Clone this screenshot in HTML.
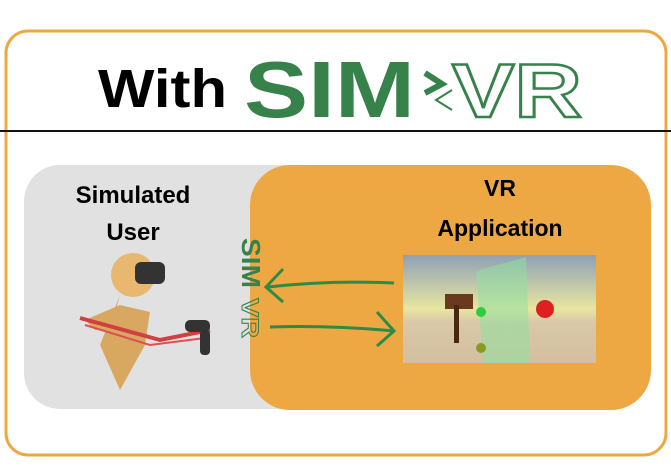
<!DOCTYPE html>
<html><head><style>
html,body{margin:0;padding:0;background:#fff;}
svg{display:block;}
</style></head><body>
<svg width="671" height="466" viewBox="0 0 671 466" xmlns="http://www.w3.org/2000/svg" font-family="Liberation Sans, sans-serif">
<rect x="6" y="31" width="660" height="424" rx="22" fill="#fff" stroke="#EDA844" stroke-width="3"/>
<line x1="0" y1="131" x2="671" y2="131" stroke="#111" stroke-width="2"/>
<text x="98" y="107" font-size="54" font-weight="bold" fill="#000" textLength="129" lengthAdjust="spacingAndGlyphs">With</text>
<text x="244" y="117" font-size="80" font-weight="bold" fill="#37824A" textLength="171" lengthAdjust="spacingAndGlyphs">SIM</text>
<path d="M425 73 L442 84 L425 93" fill="none" stroke="#37824A" stroke-width="6"/>
<path d="M452 90 L436 100 L452 110" fill="none" stroke="#37824A" stroke-width="2"/>
<text x="452" y="117" font-size="76" font-weight="bold" fill="#fff" stroke="#37824A" stroke-width="2.5" textLength="130" lengthAdjust="spacingAndGlyphs">VR</text>
<rect x="24" y="165" width="300" height="244" rx="36" fill="#E1E1E1"/>
<rect x="250" y="165" width="401" height="245" rx="40" fill="#EDA844"/>
<text x="133" y="203" font-size="24" font-weight="bold" text-anchor="middle">Simulated</text>
<text x="133" y="240" font-size="24" font-weight="bold" text-anchor="middle">User</text>
<text x="500" y="196" font-size="23" font-weight="bold" text-anchor="middle">VR</text>
<text x="500" y="236" font-size="23" font-weight="bold" text-anchor="middle">Application</text>
<g transform="translate(242,238) rotate(90)">
<text x="0" y="0" font-size="26" font-weight="bold" fill="#37824A" textLength="50" lengthAdjust="spacingAndGlyphs">SIM</text>
<text x="60" y="0" font-size="24" font-weight="bold" fill="none" stroke="#37824A" stroke-width="1" textLength="40" lengthAdjust="spacingAndGlyphs">VR</text>
</g>
<path d="M394 283 Q330 280 268 287" fill="none" stroke="#2E8B45" stroke-width="3"/>
<path d="M283 269 L266 287 L283 302" fill="none" stroke="#2E8B45" stroke-width="3"/>
<path d="M270 327 Q330 325 394 331" fill="none" stroke="#2E8B45" stroke-width="3"/>
<path d="M377 312 L394 331 L377 346" fill="none" stroke="#2E8B45" stroke-width="3"/>
<defs><linearGradient id="sky" x1="0" y1="0" x2="0" y2="1">
<stop offset="0" stop-color="#8FA0B6"/><stop offset="0.5" stop-color="#E8E6A0"/><stop offset="0.62" stop-color="#D8C9A8"/><stop offset="1" stop-color="#D3BFA0"/></linearGradient></defs>
<rect x="403" y="255" width="193" height="108" fill="url(#sky)"/>
<path d="M476 271 L526 257 L530 363 L483 363 Z" fill="#8FE0A0" opacity="0.55"/>
<rect x="445" y="294" width="28" height="15" fill="#6B3A1E"/>
<rect x="454" y="305" width="5" height="38" fill="#4A2810"/>
<circle cx="481" cy="312" r="5" fill="#2ECC40"/>
<circle cx="481" cy="348" r="5" fill="#8A9A20"/>
<circle cx="545" cy="309" r="9" fill="#E02020"/>
<g>
<circle cx="133" cy="275" r="22" fill="#E8B870"/>
<rect x="135" y="262" width="30" height="22" rx="6" fill="#333"/>
<path d="M120 295 L110 330 L95 330 L85 320 L120 305 L150 312 L145 345 L120 390 L100 345 Z" fill="#D9A860"/>
<path d="M80 318 L160 340 L210 330" fill="none" stroke="#D04040" stroke-width="4"/>
<path d="M85 325 L150 345 L205 338" fill="none" stroke="#E05050" stroke-width="2"/>
<rect x="185" y="320" width="25" height="12" rx="5" fill="#333"/>
<rect x="200" y="330" width="10" height="25" rx="4" fill="#333"/>
</g>
</svg>
</body></html>
